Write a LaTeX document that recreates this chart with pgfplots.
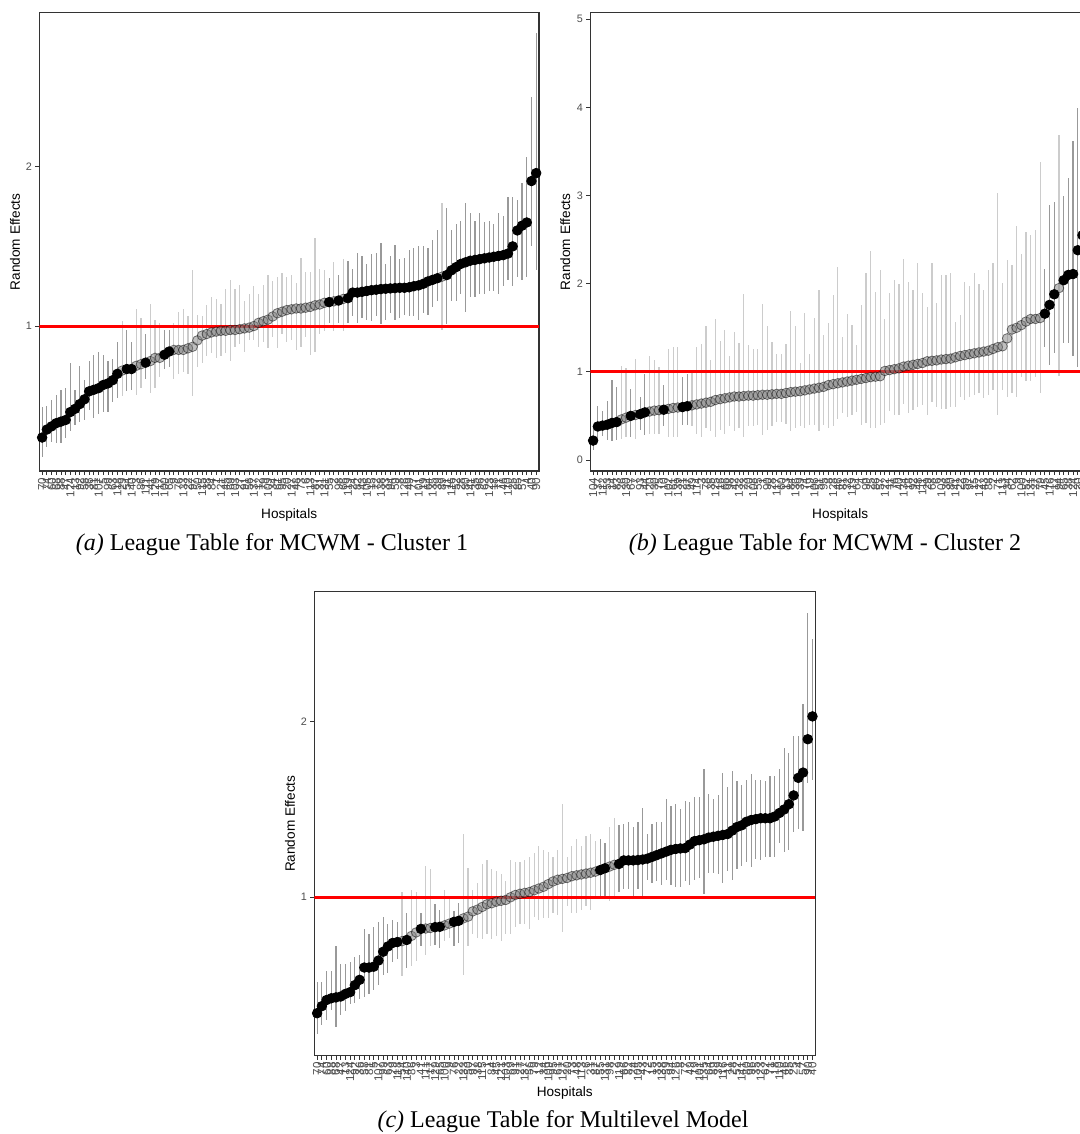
\documentclass[border=0pt]{standalone}
\usepackage{pgfplots}
\usepackage{pgfplotstable}
\pgfplotsset{compat=1.18}
\usepackage{fontspec}
\setmainfont{Liberation Sans}
\newfontfamily\capfont{Liberation Serif}
\definecolor{g30}{HTML}{4D4D4D}
\definecolor{g20}{HTML}{333333}
\definecolor{bardark}{HTML}{999999}
\definecolor{barlight}{HTML}{CCCCCC}
\definecolor{dotlight}{HTML}{808080}
\definecolor{redline}{HTML}{FF0000}
\pgfplotsset{
  lt/.style={
    scale only axis, anchor=south west,
    xmin=0.4, xmax=106.6,
    xtick={1,...,106},
    axis line style={draw=g20, line width=0.6pt},
    tick style={draw=g20, line width=0.4pt},
    tick align=outside, major tick length=2pt,
    xtick pos=bottom, ytick pos=left,
    x tick label style={font=\fontsize{5.8}{5.8}\selectfont, text=g30, rotate=90, anchor=east, inner sep=1.2pt},
    y tick label style={font=\fontsize{5.4}{5.4}\selectfont, text=g30, inner sep=1.5pt},
    /pgf/number format/assume math mode=true,
    xlabel={Hospitals}, ylabel={Random Effects},
  },
  sel0/.style={restrict expr to domain={\thisrow{s}}{-0.5:0.5}},
  sel1/.style={restrict expr to domain={\thisrow{s}}{0.5:1.5}},
  barsL/.style={draw=none, mark=none, sel0,
    error bars/y dir=both, error bars/y explicit, error bars/error mark=none,
    error bars/error bar style={line width=0.6pt, draw=barlight, solid}},
  barsD/.style={draw=none, mark=none, sel1,
    error bars/y dir=both, error bars/y explicit, error bars/error mark=none,
    error bars/error bar style={line width=0.6pt, draw=bardark, solid}},
  dotsL/.style={only marks, mark=*, mark size=2.4pt, sel0,
    mark options={draw=none, fill=dotlight, opacity=0.5}},
  dotsD/.style={only marks, mark=*, mark size=2.4pt, sel1,
    mark options={draw=none, fill=black}},
}
\pgfplotstableread{
i v lo hi s
1 0.30 0.18 0.49 1
2 0.35 0.24 0.50 1
3 0.37 0.27 0.535 1
4 0.39 0.265 0.567 1
5 0.40 0.265 0.60 1
6 0.41 0.30 0.61 1
7 0.46 0.34 0.77 1
8 0.48 0.38 0.60 1
9 0.51 0.40 0.75 1
10 0.54 0.41 0.66 1
11 0.59 0.47 0.78 1
12 0.60 0.42 0.82 1
13 0.61 0.45 0.84 1
14 0.63 0.46 0.82 1
15 0.64 0.46 0.78 1
16 0.66 0.52 0.79 1
17 0.70 0.55 0.90 1
18 0.72 0.56 1.03 0
19 0.73 0.59 0.975 1
20 0.73 0.60 0.90 1
21 0.75 0.57 1.11 0
22 0.76 0.61 1.05 0
23 0.77 0.67 0.95 1
24 0.78 0.58 1.14 0
25 0.80 0.61 1.04 0
26 0.80 0.68 1.02 0
27 0.82 0.73 0.975 1
28 0.84 0.74 0.975 1
29 0.85 0.67 1.02 0
30 0.85 0.70 1.09 0
31 0.85 0.71 1.11 0
32 0.86 0.70 1.06 0
33 0.87 0.56 1.35 0
34 0.91 0.745 1.07 0
35 0.94 0.765 1.06 0
36 0.95 0.81 1.13 0
37 0.96 0.83 1.18 0
38 0.965 0.80 1.17 0
39 0.97 0.81 1.14 0
40 0.97 0.83 1.23 0
41 0.975 0.78 1.29 0
42 0.975 0.87 1.23 0
43 0.98 0.89 1.26 0
44 0.985 0.84 1.16 0
45 0.99 0.91 1.20 0
46 1.00 0.91 1.25 0
47 1.02 0.87 1.20 0
48 1.03 0.90 1.26 0
49 1.04 0.86 1.32 0
50 1.06 0.93 1.28 0
51 1.08 0.86 1.31 0
52 1.09 0.95 1.33 0
53 1.10 0.90 1.31 0
54 1.105 0.91 1.32 0
55 1.11 0.85 1.27 0
56 1.11 0.87 1.43 0
57 1.115 0.93 1.34 0
58 1.12 0.82 1.34 0
59 1.13 0.84 1.55 0
60 1.135 0.95 1.36 0
61 1.146 0.97 1.35 0
62 1.15 1.02 1.30 1
63 1.155 0.97 1.40 0
64 1.16 1.02 1.32 1
65 1.17 0.97 1.42 0
66 1.175 1.02 1.41 1
67 1.21 1.06 1.36 1
68 1.21 1.02 1.46 1
69 1.215 1.05 1.44 1
70 1.22 1.04 1.39 1
71 1.225 1.03 1.45 1
72 1.228 1.06 1.46 1
73 1.232 1.01 1.52 1
74 1.234 1.04 1.39 1
75 1.236 1.08 1.44 1
76 1.238 1.04 1.51 1
77 1.24 1.05 1.42 1
78 1.24 1.07 1.43 1
79 1.243 1.06 1.48 1
80 1.25 1.06 1.49 1
81 1.255 1.04 1.50 1
82 1.265 1.08 1.50 1
83 1.28 1.07 1.49 1
84 1.29 1.12 1.54 1
85 1.30 1.16 1.60 1
86 1.31 0.976 1.77 0
87 1.32 1.01 1.74 1
88 1.35 1.16 1.60 1
89 1.37 1.16 1.64 1
90 1.39 1.20 1.66 1
91 1.40 1.09 1.77 1
92 1.41 1.18 1.71 1
93 1.415 1.18 1.66 1
94 1.42 1.20 1.71 1
95 1.425 1.20 1.65 1
96 1.43 1.22 1.66 1
97 1.435 1.22 1.64 1
98 1.44 1.20 1.71 1
99 1.445 1.25 1.69 1
100 1.455 1.29 1.81 1
101 1.50 1.25 1.81 1
102 1.60 1.31 1.79 1
103 1.63 1.29 1.90 1
104 1.65 1.31 2.06 1
105 1.91 1.50 2.44 1
106 1.96 1.35 2.84 1
}\tabA
\pgfplotstableread{
i v lo hi s
1 0.22 0.11 0.40 1
2 0.38 0.23 0.61 1
3 0.39 0.27 0.56 1
4 0.40 0.23 0.67 1
5 0.42 0.21 0.91 1
6 0.43 0.23 0.83 1
7 0.46 0.24 1.07 0
8 0.48 0.26 1.04 0
9 0.50 0.26 0.81 1
10 0.51 0.24 1.15 0
11 0.52 0.34 0.72 1
12 0.54 0.28 0.98 1
13 0.55 0.30 1.18 0
14 0.56 0.30 1.13 0
15 0.565 0.30 1.06 0
16 0.57 0.38 0.85 1
17 0.58 0.26 1.26 0
18 0.59 0.26 1.28 0
19 0.595 0.26 1.28 0
20 0.60 0.40 0.94 1
21 0.61 0.40 0.98 1
22 0.62 0.38 1.02 0
23 0.63 0.30 1.28 0
24 0.64 0.26 1.32 0
25 0.65 0.36 1.52 0
26 0.66 0.33 1.13 0
27 0.68 0.26 1.60 0
28 0.69 0.34 1.35 0
29 0.70 0.30 1.48 0
30 0.71 0.38 1.18 0
31 0.72 0.33 1.45 0
32 0.72 0.36 1.33 0
33 0.725 0.26 1.88 0
34 0.73 0.39 1.30 0
35 0.73 0.38 1.26 0
36 0.735 0.40 1.26 0
37 0.74 0.28 1.77 0
38 0.74 0.34 1.52 0
39 0.745 0.38 1.34 0
40 0.75 0.43 1.20 0
41 0.75 0.43 1.20 0
42 0.76 0.41 1.32 0
43 0.77 0.33 1.69 0
44 0.775 0.36 1.52 0
45 0.78 0.38 1.10 0
46 0.79 0.36 1.67 0
47 0.80 0.40 1.20 0
48 0.81 0.40 1.61 0
49 0.82 0.33 1.93 0
50 0.83 0.40 1.42 0
51 0.85 0.36 1.55 0
52 0.86 0.38 1.87 0
53 0.87 0.47 2.19 0
54 0.88 0.53 1.40 0
55 0.89 0.49 1.66 0
56 0.90 0.51 1.53 0
57 0.91 0.54 1.30 0
58 0.92 0.40 1.76 0
59 0.93 0.42 2.12 0
60 0.94 0.36 2.37 0
61 0.945 0.36 1.91 0
62 0.95 0.40 2.16 0
63 1.01 0.42 1.60 0
64 1.02 0.55 1.89 0
65 1.03 0.51 2.04 0
66 1.04 0.51 2.00 0
67 1.06 0.64 2.28 0
68 1.07 0.53 2.02 0
69 1.08 0.57 1.93 0
70 1.09 0.60 2.24 0
71 1.10 0.62 1.89 0
72 1.12 0.51 1.74 0
73 1.125 0.66 2.23 0
74 1.13 0.60 1.78 0
75 1.14 0.58 2.10 0
76 1.145 0.58 2.10 0
77 1.15 0.60 2.12 0
78 1.165 0.60 1.57 0
79 1.18 0.72 1.65 0
80 1.19 0.68 2.02 0
81 1.20 0.72 1.97 0
82 1.21 0.74 2.12 0
83 1.22 0.76 2.00 0
84 1.23 0.70 1.93 0
85 1.24 0.74 2.16 0
86 1.26 0.79 2.23 0
87 1.28 0.51 3.03 0
88 1.29 0.79 2.01 0
89 1.38 0.72 2.27 0
90 1.48 0.76 2.21 0
91 1.50 0.72 2.65 0
92 1.53 0.94 2.34 0
93 1.57 0.90 2.59 0
94 1.60 0.90 2.55 0
95 1.60 0.94 2.61 0
96 1.61 0.76 3.38 0
97 1.66 1.28 2.17 1
98 1.76 1.08 2.89 1
99 1.88 1.21 2.93 1
100 1.95 0.95 3.69 0
101 2.04 1.33 3.00 1
102 2.10 1.33 3.20 1
103 2.11 1.18 3.62 1
104 2.38 1.05 3.99 1
105 2.55 1.20 4.40 1
106 2.90 1.40 5.00 1
}\tabB
\pgfplotstableread{
i v lo hi s
1 0.34 0.22 0.52 1
2 0.38 0.27 0.52 1
3 0.415 0.30 0.58 1
4 0.425 0.36 0.58 1
5 0.43 0.26 0.72 1
6 0.435 0.33 0.62 1
7 0.45 0.35 0.62 1
8 0.46 0.39 0.63 1
9 0.50 0.40 0.66 1
10 0.53 0.42 0.67 1
11 0.60 0.43 0.82 1
12 0.60 0.45 0.79 1
13 0.605 0.47 0.83 1
14 0.64 0.50 0.86 1
15 0.69 0.56 0.89 1
16 0.72 0.57 0.85 1
17 0.74 0.63 0.87 1
18 0.745 0.65 0.86 1
19 0.75 0.55 1.03 0
20 0.757 0.60 0.91 1
21 0.78 0.61 1.04 0
22 0.80 0.64 1.03 0
23 0.82 0.72 0.91 1
24 0.822 0.67 1.18 0
25 0.825 0.72 1.16 0
26 0.83 0.73 0.96 1
27 0.832 0.71 0.93 1
28 0.84 0.75 1.04 0
29 0.85 0.77 1.01 0
30 0.86 0.72 0.92 1
31 0.866 0.74 0.97 1
32 0.88 0.56 1.36 0
33 0.89 0.72 1.165 0
34 0.92 0.79 1.04 0
35 0.93 0.77 1.08 0
36 0.945 0.76 1.19 0
37 0.96 0.79 1.21 0
38 0.966 0.76 1.16 0
39 0.975 0.78 1.15 0
40 0.98 0.75 1.13 0
41 0.985 0.79 1.09 0
42 1.00 0.79 1.21 0
43 1.013 0.83 1.20 0
44 1.02 0.85 1.20 0
45 1.025 0.85 1.21 0
46 1.03 0.82 1.23 0
47 1.04 0.89 1.25 0
48 1.05 0.87 1.29 0
49 1.06 0.88 1.27 0
50 1.075 0.88 1.26 0
51 1.09 0.91 1.23 0
52 1.10 0.90 1.27 0
53 1.105 0.80 1.53 0
54 1.11 0.95 1.23 0
55 1.12 0.91 1.29 0
56 1.125 0.91 1.33 0
57 1.13 0.93 1.29 0
58 1.135 0.95 1.35 0
59 1.14 0.93 1.36 0
60 1.146 0.99 1.32 0
61 1.155 1.01 1.33 1
62 1.165 1.01 1.31 1
63 1.175 0.98 1.40 0
64 1.185 0.99 1.45 0
65 1.19 1.03 1.41 1
66 1.21 1.05 1.42 1
67 1.21 1.05 1.43 1
68 1.21 1.01 1.40 1
69 1.212 1.05 1.43 1
70 1.215 1.005 1.51 1
71 1.22 1.10 1.36 1
72 1.23 1.08 1.42 1
73 1.24 1.09 1.43 1
74 1.25 1.07 1.43 1
75 1.26 1.10 1.56 1
76 1.27 1.07 1.52 1
77 1.275 1.06 1.53 1
78 1.278 1.06 1.50 1
79 1.28 1.09 1.55 1
80 1.30 1.07 1.54 1
81 1.32 1.10 1.57 1
82 1.325 1.11 1.57 1
83 1.33 1.02 1.73 1
84 1.34 1.14 1.59 1
85 1.345 1.14 1.56 1
86 1.35 1.13 1.58 1
87 1.355 1.08 1.71 1
88 1.36 1.15 1.63 1
89 1.38 1.10 1.72 1
90 1.40 1.16 1.66 1
91 1.41 1.18 1.64 1
92 1.43 1.20 1.67 1
93 1.44 1.17 1.70 1
94 1.445 1.22 1.67 1
95 1.45 1.21 1.67 1
96 1.45 1.23 1.66 1
97 1.45 1.23 1.69 1
98 1.46 1.23 1.69 1
99 1.48 1.31 1.73 1
100 1.50 1.26 1.85 1
101 1.53 1.27 1.82 1
102 1.58 1.37 1.92 1
103 1.68 1.39 1.92 1
104 1.71 1.38 2.10 1
105 1.90 1.65 2.62 1
106 2.03 1.67 2.47 1
}\tabC
\newcommand{\leaguepanel}[1]{%
  \addplot[barsL] table[x=i, y=v, y error plus expr=\thisrow{hi}-\thisrow{v}, y error minus expr=\thisrow{v}-\thisrow{lo}] {#1};
  \addplot[barsD] table[x=i, y=v, y error plus expr=\thisrow{hi}-\thisrow{v}, y error minus expr=\thisrow{v}-\thisrow{lo}] {#1};
  \addplot[redline, line width=1.5pt] coordinates {(0.4,1) (106.6,1)};
  \addplot[dotsL] table[x=i, y=v] {#1};
  \addplot[dotsD] table[x=i, y=v] {#1};
}
\begin{document}
\begin{tikzpicture}
\path[use as bounding box, clip] (0,0) rectangle (540pt,567pt);
% (a)
\begin{axis}[lt, at={(19.65pt,331.5pt)}, width=249.85pt, height=229.15pt,
  ymin=0.09, ymax=2.967, ytick={1,2},
  every axis y label/.style={at={(axis description cs:-0.0486,0.5)}, rotate=90, anchor=center, font=\fontsize{6.8}{6.8}\selectfont},
  every axis x label/.style={at={(axis description cs:0.5,-0.096)}, anchor=center, font=\fontsize{6.8}{6.8}\selectfont},
  xticklabels={70,74,60,68,88,47,124,13,92,58,36,81,107,5,99,63,118,29,54,140,3,86,111,41,129,17,100,65,9,76,133,22,97,50,115,38,84,1,121,45,69,103,27,91,56,137,12,79,109,34,61,95,20,127,48,73,6,113,87,31,131,55,2,98,66,119,24,82,43,105,15,72,138,33,94,59,8,126,49,77,101,19,64,135,39,89,11,116,52,28,80,141,35,96,62,123,18,71,46,110,25,85,57,4,40,90}]
\leaguepanel{\tabA}
\end{axis}
% (b)
\begin{axis}[lt, at={(295.15pt,331.5pt)}, width=249.85pt, height=229.15pt,
  ymin=-0.125, ymax=5.075, ytick={0,1,2,3,4,5},
  every axis y label/.style={at={(axis description cs:-0.05,0.5)}, rotate=90, anchor=center, font=\fontsize{6.8}{6.8}\selectfont},
  every axis x label/.style={at={(axis description cs:0.5,-0.096)}, anchor=center, font=\fontsize{6.8}{6.8}\selectfont},
  xticklabels={104,37,112,53,14,83,26,130,67,7,93,44,120,30,75,10,102,61,139,21,87,49,114,3,78,35,125,16,66,98,42,132,23,70,108,55,1,90,28,117,60,13,84,136,39,74,19,106,51,95,8,128,46,81,32,119,64,4,99,25,86,57,122,11,76,40,134,18,92,48,111,29,68,6,103,36,80,141,22,59,97,15,127,43,88,2,71,113,34,62,9,100,52,131,27,79,45,116,12,94,65,38,124,20,85,56}]
\leaguepanel{\tabB}
\end{axis}
% (c)
\begin{axis}[lt, at={(157.15pt,39.15pt)}, width=250.5pt, height=232pt,
  ymin=0.098, ymax=2.74, ytick={1,2},
  every axis y label/.style={at={(axis description cs:-0.0485,0.5)}, rotate=90, anchor=center, font=\fontsize{6.8}{6.8}\selectfont},
  every axis x label/.style={at={(axis description cs:0.5,-0.0804)}, anchor=center, font=\fontsize{6.8}{6.8}\selectfont},
  xticklabels={70,74,60,88,68,47,13,124,92,36,58,81,5,107,99,63,29,118,54,140,86,3,41,111,17,129,65,100,9,76,22,133,50,97,38,115,1,84,45,121,103,69,91,27,137,56,79,12,34,109,95,61,127,20,73,48,113,6,31,87,55,131,98,2,119,66,82,24,105,43,72,15,33,138,59,94,126,8,77,49,19,101,135,64,89,39,116,11,28,52,141,80,96,35,123,62,71,18,110,46,85,25,4,57,90,40}]
\leaguepanel{\tabC}
\end{axis}
\node[font=\capfont\fontsize{12}{12}\selectfont, anchor=base] at (136pt,291.5pt) {\textit{(a)} League Table for MCWM - Cluster 1};
\node[font=\capfont\fontsize{12}{12}\selectfont, anchor=base] at (412.5pt,291.5pt) {\textit{(b)} League Table for MCWM - Cluster 2};
\node[font=\capfont\fontsize{12}{12}\selectfont, anchor=base] at (281.5pt,3pt) {\textit{(c)} League Table for Multilevel Model};
\end{tikzpicture}
\end{document}
